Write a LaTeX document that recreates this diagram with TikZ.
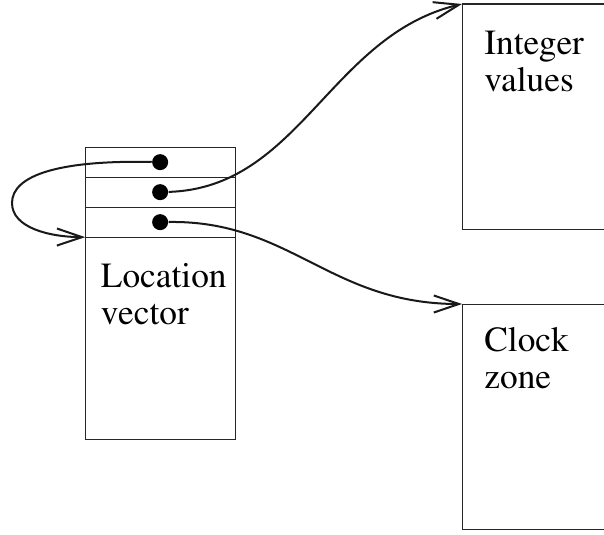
\documentclass[tikz,border=0pt]{standalone}
\usepackage[T1]{fontenc}
\usepackage{times}
\usetikzlibrary{positioning,arrows.meta}

\begin{document}
\begin{tikzpicture}[>={Straight Barb[length=12.5pt,width=8.5pt]}, node distance=0pt]
	\tikzstyle{cell}=[rectangle,draw=black!85,line width=0.5pt,minimum width=2.625cm,inner sep=0pt,outer sep=0pt]
	\tikzstyle{slot}=[cell,minimum height=0.525cm]
	\tikzstyle{store}=[rectangle,draw=black!85,line width=0.5pt,anchor=north west,minimum width=3cm,minimum height=3.9375cm,inner sep=0pt,outer sep=0pt]
	\tikzstyle{ptr}=[circle,fill=black,minimum size=0.28cm,inner sep=0pt]
	\tikzstyle{boxtext}=[align=left,inner sep=0pt,font=\rmfamily\fontsize{17.6}{18.4}\selectfont]
	\tikzstyle{link}=[->,line width=1pt,black!90]

	\useasboundingbox (0,0) rectangle (10.57,9.345);
	\clip (0,0) rectangle (10.57,9.345);

	%location vector
	\node[slot,anchor=north west] (row1) at (1.49,6.77) {};
	\node[slot,below=of row1] (row2) {};
	\node[slot,below=of row2] (row3) {};
	\node[cell,below=of row3,minimum height=3.535cm] (body) {};
	\node[boxtext,below right=0.45cm and 0.27cm of body.north west] (lvText) {Location\\vector};
	\node[ptr] (p1) at (row1) {};
	\node[ptr] (p2) at (row2) {};
	\node[ptr] (p3) at (row3) {};

	%integer values
	\node[store] (ints) at (8.085,9.275) {};
	\node[boxtext,below right=0.47cm and 0.385cm of ints.north west] (intText) {Integer\\values};

	%clock zone
	\node[store] (clock) at (8.085,4.025) {};
	\node[boxtext,below right=0.41cm and 0.385cm of clock.north west] (clockText) {Clock\\zone};

	%pointers
	\draw[link] (p1) .. controls (1.05,6.545) and (0.21,6.2825) .. (0.21,5.7925)
		.. controls (0.21,5.355) and (0.875,5.1975) .. (row3.south west);
	\draw[link] (p2) .. controls (5.25,6.055) and (5.775,8.73) .. (ints.north west);
	\draw[link] (p3) .. controls (5.075,5.495) and (5.775,4.025) .. (clock.north west);

\end{tikzpicture}
\end{document}
